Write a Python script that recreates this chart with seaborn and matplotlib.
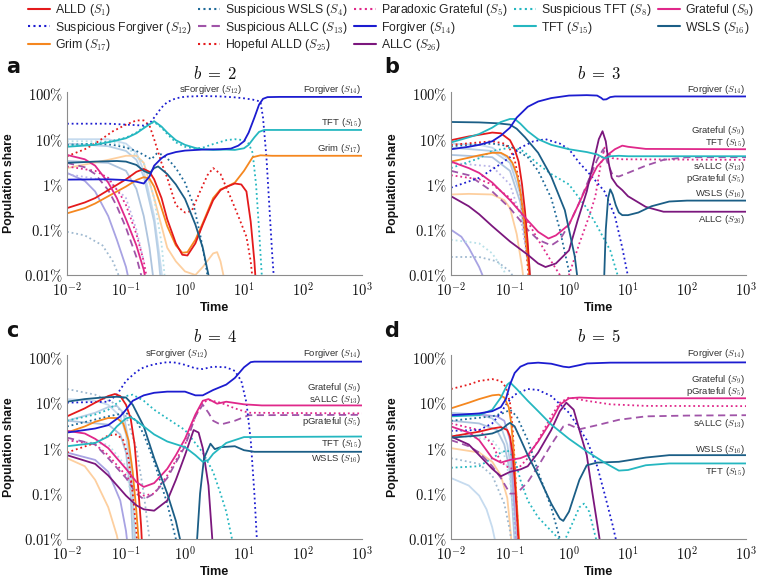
import matplotlib
matplotlib.use("Agg")
import matplotlib.pyplot as plt
import seaborn as sns
from matplotlib.ticker import LogLocator, NullFormatter, FixedLocator, FixedFormatter
from matplotlib.lines import Line2D
import matplotlib.transforms as mtrans

# ------------------------------------------------------------------
# Data: (time, population share in %)
# ------------------------------------------------------------------
# ---- panel a (b = 2) ----
A_S1 = [(0.01,0.3),(0.02,0.4),(0.03,0.5),(0.05,0.75),(0.1,1.3),(0.15,1.9),(0.2,2.2),(0.25,1.9),(0.3,1.3),(0.4,0.5),(0.5,0.17),(0.7,0.05),(0.9,0.028),(1.1,0.027),(1.5,0.05),(2,0.13),(3,0.45),(4,0.75),(5,0.88),(7,1.05),(9,1.0),(11,0.7),(13,0.15),(15,0.02),(16.5,0.003)]
A_S4 = [(0.01,7.5),(0.03,8),(0.06,7.5),(0.1,6.5),(0.15,5.5),(0.2,4.5),(0.27,3.6),(0.33,4.8),(0.4,4.6),(0.5,3.8),(0.7,2.3),(1,1.1),(1.4,0.35),(1.8,0.08),(2.2,0.02),(2.6,0.005)]
A_S5 = [(0.01,2.5),(0.03,2.0),(0.05,1.4),(0.08,0.6),(0.1,0.35),(0.15,0.08),(0.2,0.02),(0.25,0.004)]
A_S8 = [(0.01,7.2),(0.03,8),(0.05,8.8),(0.1,10.8),(0.15,14),(0.2,18.5),(0.25,22),(0.3,24),(0.4,18),(0.5,13),(0.7,8.5),(1,6.8),(1.5,6.2),(2,6.5),(3,7.8),(5,9.5),(7,10),(10,9.5),(12,8),(14,5),(16,1),(18,0.1),(20,0.01),(21,0.003)]
A_S9 = [(0.01,4.5),(0.02,3.6),(0.03,2.6),(0.05,1.1),(0.07,0.5),(0.1,0.17),(0.15,0.045),(0.2,0.013),(0.23,0.005)]
A_S12 = [(0.01,22),(0.05,22),(0.1,21),(0.2,20),(0.25,22),(0.3,30),(0.4,50),(0.5,66),(0.7,80),(1,87),(2,90),(4,88),(7,84),(10,80),(14,75),(19,68),(21,30),(24,4),(27,0.3),(30,0.03),(33,0.005)]
A_S13 = [(0.01,3.0),(0.02,2.4),(0.03,1.7),(0.05,0.75),(0.07,0.33),(0.1,0.11),(0.15,0.025),(0.2,0.006)]
A_S14 = [(0.01,1.28),(0.05,1.3),(0.1,1.25),(0.15,1.15),(0.2,1.05),(0.25,1.5),(0.3,2.6),(0.4,3.8),(0.5,4.6),(0.7,5.2),(1,5.6),(2,5.9),(4,6.0),(6,6.2),(8,7.2),(10,9),(12,14),(15,30),(18,58),(21,78),(25,85),(40,86),(1000,86)]
A_S15 = [(0.01,6.8),(0.03,7.5),(0.06,9),(0.1,10.5),(0.15,13.5),(0.2,17.5),(0.3,25),(0.4,19),(0.5,14),(0.7,9.5),(1,7.5),(1.5,6.4),(2,6.0),(3,5.8),(5,5.9),(7,5.8),(10,6.3),(12,7.5),(15,11),(18,14.5),(22,16),(40,16),(1000,16)]
A_S16 = [(0.01,3.0),(0.03,3.2),(0.07,3.3),(0.1,3.2),(0.15,2.7),(0.2,2.0),(0.25,1.75),(0.3,2.3),(0.35,2.5),(0.5,1.7),(0.7,1.0),(1,0.48),(1.5,0.13),(2,0.04),(2.5,0.01),(2.8,0.004)]
A_S17 = [(0.01,0.23),(0.02,0.3),(0.03,0.38),(0.05,0.55),(0.1,0.9),(0.15,1.25),(0.2,1.45),(0.25,1.35),(0.3,0.9),(0.4,0.3),(0.5,0.12),(0.7,0.045),(0.9,0.031),(1.1,0.032),(1.5,0.06),(2,0.14),(3,0.5),(4,0.78),(5,0.88),(7,1.1),(10,2),(14,4.0),(19,4.4),(30,4.3),(1000,4.3)]
A_S25 = [(0.01,4.2),(0.02,6),(0.03,8),(0.06,15),(0.1,21),(0.15,26),(0.2,26),(0.25,20),(0.3,10),(0.4,3),(0.5,1.4),(0.7,0.35),(1,0.24),(1.3,0.26),(1.8,0.7),(2.4,1.6),(3,2.3),(4,1.7),(6,0.5),(8,0.2),(11,0.07),(13,0.02),(14.5,0.005)]
A_BG = [
    [(0.01,10),(0.05,10),(0.1,8),(0.15,5),(0.2,2),(0.3,0.2),(0.4,0.012),(0.45,0.003)],
    [(0.01,8),(0.05,7),(0.1,5.5),(0.15,3.5),(0.2,1.5),(0.3,0.15),(0.35,0.03),(0.4,0.005)],
    [(0.01,3.3),(0.05,3.0),(0.1,2.0),(0.15,0.8),(0.2,0.2),(0.25,0.04),(0.3,0.006)],
    [(0.01,2.3),(0.05,3.5),(0.1,4.3),(0.15,4.3),(0.2,3),(0.3,0.5),(0.5,0.04),(0.7,0.02),(1,0.012),(1.5,0.01),(2,0.015),(3,0.03),(3.5,0.032),(4,0.02),(5,0.005)],
    [(0.01,1.8),(0.02,1.2),(0.03,0.7),(0.05,0.2),(0.07,0.06),(0.1,0.015),(0.12,0.005)],
    [(0.01,0.09),(0.02,0.075),(0.04,0.045),(0.06,0.02),(0.08,0.008)],
    [(0.01,9),(0.05,9),(0.1,7),(0.2,3),(0.3,0.5),(0.4,0.05),(0.45,0.01)],
    [(0.01,1.7),(0.05,1.2),(0.1,0.5),(0.15,0.1),(0.2,0.02)],
]

# ---- panel b (b = 3) ----
B_S1 = [(0.01,9.5),(0.02,11.5),(0.03,12.5),(0.05,14),(0.07,13.5),(0.1,9.5),(0.12,6),(0.14,3.2),(0.16,1.0),(0.18,0.25),(0.2,0.05),(0.22,0.008)]
B_S4 = [(0.01,7),(0.05,8),(0.1,7),(0.2,4),(0.3,2),(0.5,0.5),(0.7,0.1),(1,0.012),(1.1,0.005)]
B_S5 = [(0.01,1.6),(0.03,1.3),(0.05,1.0),(0.1,0.5),(0.2,0.15),(0.3,0.06),(0.5,0.02),(0.7,0.01),(0.85,0.006),(1.0,0.01),(1.5,0.05),(2.2,0.2),(2.8,0.55),(3.4,2.5),(4.0,6.5),(4.6,5),(5.5,3.8),(8,3.6),(1000,3.5)]
B_S8 = [(0.01,2.3),(0.03,3.8),(0.05,5.5),(0.1,6.5),(0.15,6),(0.2,4.5),(0.3,2.8),(0.5,1.7),(1,1.0),(2,0.3),(3,0.12),(5,0.035),(7,0.008)]
B_S9 = [(0.01,3.2),(0.02,2.3),(0.03,1.8),(0.05,1.1),(0.1,0.45),(0.2,0.16),(0.3,0.09),(0.45,0.064),(0.6,0.075),(1,0.13),(1.5,0.4),(2,0.9),(3,2.5),(4.5,4.5),(6,6),(8,7.2),(10,6.8),(20,6.1),(1000,6.0)]
B_S12 = [(0.01,0.85),(0.03,1.4),(0.06,2.5),(0.1,4),(0.15,6.5),(0.25,9),(0.4,10),(0.7,8),(1,6),(1.5,3),(2,2),(3,1.1),(4,0.7),(6,0.2),(8,0.04),(11,0.005)]
B_S13 = [(0.01,2.0),(0.02,1.6),(0.05,0.7),(0.1,0.3),(0.2,0.1),(0.3,0.06),(0.5,0.045),(0.7,0.06),(1,0.13),(1.5,0.4),(2,1.0),(3,3.5),(3.8,6),(4.5,3),(5.5,1.6),(7,1.5),(10,1.8),(20,2.6),(40,3.5),(100,4.0),(1000,4.0)]
B_S14 = [(0.01,6),(0.02,6.8),(0.03,7.5),(0.05,9),(0.07,12),(0.1,18),(0.13,30),(0.2,52),(0.3,68),(0.5,81),(1,92),(2,94),(3,92),(3.5,82),(3.8,75),(4.3,76),(5,85),(6,88),(1000,88)]
B_S15 = [(0.01,8.5),(0.02,11),(0.03,13),(0.05,18),(0.07,24),(0.1,28),(0.12,28),(0.15,22),(0.2,15),(0.3,10),(0.5,7.5),(1,6),(2,5.2),(3,4.6),(4,3.8),(5,4.2),(7,4.3),(10,4.2),(1000,4.2)]
B_S16 = [(0.01,24),(0.03,23.5),(0.06,22.5),(0.1,21),(0.13,17),(0.18,11),(0.3,5),(0.5,1.5),(0.85,0.27),(1.25,0.026),(1.4,0.008),(1.6,0.001),(3.5,0.0001),(3.8,0.002),(4.2,0.1),(4.6,0.5),(5.0,0.78),(5.5,0.6),(6.2,0.35),(7,0.24),(8,0.21),(10,0.21),(15,0.24),(25,0.33),(50,0.42),(100,0.44),(1000,0.44)]
B_S17 = [(0.01,3.2),(0.02,3.9),(0.03,4.4),(0.05,5.0),(0.07,5.0),(0.09,4.2),(0.11,3.0),(0.13,1.7),(0.15,0.7),(0.17,0.2),(0.19,0.05),(0.21,0.012),(0.23,0.003)]
B_S25 = [(0.01,7.5),(0.03,8.5),(0.05,9),(0.08,8),(0.1,6),(0.12,3.5),(0.14,1.3),(0.16,0.35),(0.18,0.08),(0.2,0.015),(0.22,0.003)]
B_S26 = [(0.01,0.55),(0.02,0.33),(0.03,0.22),(0.05,0.12),(0.1,0.055),(0.2,0.028),(0.3,0.018),(0.4,0.015),(0.6,0.018),(1,0.035),(1.4,0.16),(2,0.7),(2.5,2.5),(3.2,10),(3.7,15),(4.2,9),(4.7,3),(5.3,1.4),(6.5,0.95),(8,0.75),(10,0.55),(20,0.32),(40,0.25),(100,0.25),(1000,0.25)]
B_BG = [
    [(0.01,8),(0.03,7.5),(0.05,6.5),(0.1,3.5),(0.15,1),(0.18,0.2),(0.2,0.03),(0.22,0.005)],
    [(0.01,6.5),(0.05,5.5),(0.1,3),(0.15,0.6),(0.2,0.04),(0.22,0.01)],
    [(0.01,4.5),(0.05,4),(0.1,2),(0.15,0.4),(0.2,0.02)],
    [(0.01,0.6),(0.02,0.62),(0.05,0.6),(0.08,0.45),(0.1,0.3),(0.13,0.08),(0.16,0.015),(0.18,0.004)],
    [(0.01,0.1),(0.015,0.07),(0.02,0.04),(0.03,0.015),(0.04,0.006)],
    [(0.01,0.025),(0.03,0.025),(0.06,0.02),(0.1,0.012),(0.12,0.008)],
    [(0.01,0.06),(0.03,0.05),(0.05,0.03),(0.08,0.012),(0.1,0.005)],
    [(0.01,3),(0.05,2.5),(0.1,1),(0.15,0.2),(0.2,0.02)],
]

# ---- panel c (b = 4) ----
C_S1 = [(0.01,5),(0.02,7.5),(0.03,10),(0.05,14),(0.065,15.5),(0.08,14),(0.1,9),(0.12,4.5),(0.14,1.2),(0.16,0.15),(0.18,0.02),(0.19,0.005)]
C_S4 = [(0.01,3),(0.05,5),(0.1,6),(0.15,4),(0.2,2),(0.3,0.5),(0.5,0.06),(0.7,0.01),(0.75,0.005)]
C_S5 = [(0.01,1.5),(0.03,1.2),(0.05,0.7),(0.1,0.25),(0.15,0.12),(0.2,0.09),(0.3,0.1),(0.5,0.25),(1,1.2),(1.5,5),(2,10),(2.5,11.5),(4,10),(7,7.5),(12,6),(1000,5.8)]
C_S8 = [(0.01,4),(0.03,5.5),(0.05,7),(0.08,11),(0.1,14),(0.13,15),(0.2,11),(0.3,7),(0.5,4.5),(1,2.5),(2,0.8),(3,0.3),(4,0.1),(5,0.04),(6.5,0.008)]
C_S9 = [(0.01,2.4),(0.02,2.1),(0.03,1.6),(0.05,1.0),(0.07,0.6),(0.1,0.35),(0.15,0.18),(0.2,0.14),(0.3,0.17),(0.5,0.35),(0.7,0.7),(1,1.6),(1.5,5.5),(2,11),(2.5,12),(3.5,9.5),(5,10.5),(10,9.2),(20,8.7),(1000,8.7)]
C_S12 = [(0.01,10),(0.05,10.5),(0.07,15),(0.1,30),(0.15,48),(0.2,60),(0.3,70),(0.5,78),(0.7,76),(1,68),(1.5,57),(2,55),(3,62),(5,60),(7,50),(9,30),(11,10),(13,1.5),(15,0.1),(17,0.005)]
C_S13 = [(0.01,1.7),(0.03,1.2),(0.05,0.6),(0.1,0.22),(0.15,0.1),(0.2,0.075),(0.3,0.1),(0.5,0.22),(1,1.1),(1.5,5),(2,9),(2.5,6),(3,4),(4,3.3),(7,4.0),(12,5.3),(1000,5.4)]
C_S14 = [(0.01,2.2),(0.03,2.7),(0.05,3.2),(0.08,5),(0.1,7),(0.13,11),(0.2,14.5),(0.3,16.5),(0.5,17.5),(1,17.5),(1.5,14.5),(2,14.5),(3,19),(5,25),(7,35),(10,60),(13,78),(15,80),(1000,80)]
C_S15 = [(0.01,1.1),(0.03,1.3),(0.05,1.8),(0.07,3),(0.1,4.5),(0.12,4.8),(0.15,4),(0.2,3.0),(0.3,2.0),(0.5,1.4),(1,1.05),(1.5,0.7),(2,0.5),(2.5,0.55),(3,0.75),(5,1.3),(10,1.75),(1000,1.8)]
C_S16 = [(0.01,10.5),(0.02,12),(0.04,13),(0.07,13.5),(0.1,13),(0.13,9),(0.2,3),(0.3,0.6),(0.5,0.1),(0.7,0.025),(0.9,0.006),(1.2,0.0001),(1.55,0.005),(1.8,0.1),(2.1,0.6),(2.7,1.25),(3.2,0.95),(4,1.05),(7,1.1),(10,0.9),(15,0.83),(1000,0.83)]
C_S17 = [(0.01,2.2),(0.02,3.0),(0.03,3.8),(0.05,4.6),(0.07,4.6),(0.09,3.5),(0.11,1.5),(0.13,0.3),(0.15,0.04),(0.17,0.005)]
C_S25 = [(0.01,0.8),(0.03,1.3),(0.05,1.9),(0.07,2.0),(0.09,1.5),(0.11,0.6),(0.13,0.1),(0.15,0.015),(0.16,0.004)]
C_S26 = [(0.01,0.7),(0.03,0.45),(0.05,0.25),(0.1,0.09),(0.15,0.055),(0.2,0.045),(0.3,0.042),(0.5,0.07),(0.7,0.2),(1,0.7),(1.4,2.5),(1.7,2.2),(2,1.0),(2.5,0.15),(2.9,0.01),(3.2,0.001)]
C_BG = [
    [(0.01,12),(0.03,11),(0.05,9),(0.08,5),(0.1,2),(0.12,0.3),(0.14,0.02),(0.15,0.005)],
    [(0.01,4),(0.03,6),(0.05,8),(0.07,8.5),(0.09,6),(0.11,1.5),(0.13,0.1),(0.14,0.01)],
    [(0.01,4),(0.05,3.3),(0.08,2),(0.1,0.8),(0.12,0.1),(0.13,0.01)],
    [(0.01,0.6),(0.02,0.4),(0.03,0.2),(0.05,0.05),(0.07,0.012),(0.08,0.005)],
    [(0.01,0.8),(0.03,0.55),(0.05,0.3),(0.08,0.07),(0.1,0.015),(0.11,0.005)],
    [(0.01,20),(0.03,15),(0.06,10),(0.1,5),(0.15,1),(0.2,0.1),(0.25,0.01)],
    [(0.01,1.5),(0.05,1.2),(0.1,0.4),(0.13,0.05),(0.15,0.008)],
]

# ---- panel d (b = 5) ----
D_S1 = [(0.01,1.8),(0.03,2.3),(0.05,2.7),(0.07,2.9),(0.09,2.5),(0.1,1.8),(0.11,0.8),(0.12,0.2),(0.13,0.04),(0.14,0.008)]
D_S4 = [(0.01,4),(0.05,5),(0.08,6),(0.1,7),(0.13,5),(0.2,1.5),(0.3,0.3),(0.5,0.05),(0.7,0.01),(0.8,0.004)]
D_S5 = [(0.01,3.5),(0.03,2.5),(0.05,1.2),(0.07,0.5),(0.1,0.35),(0.15,0.4),(0.2,0.6),(0.3,1.5),(0.5,5),(0.7,10),(1,13),(2,11),(5,9.2),(20,8.5),(1000,8.4)]
D_S8 = [(0.01,0.37),(0.03,0.4),(0.05,0.6),(0.07,0.8),(0.09,0.9),(0.12,0.6),(0.15,0.2),(0.2,0.07),(0.3,0.03),(0.5,0.015),(0.8,0.008),(1,0.015),(1.5,0.05),(1.8,0.06),(2.2,0.04),(3,0.008),(3.5,0.002)]
D_S9 = [(0.01,3.0),(0.02,2.2),(0.03,1.5),(0.05,0.6),(0.07,0.48),(0.1,0.55),(0.15,0.6),(0.2,0.7),(0.3,1.4),(0.5,4),(0.7,9),(1,12.5),(1.5,13),(3,12.5),(1000,12.5)]
D_S12 = [(0.01,2.4),(0.03,2.5),(0.05,3.5),(0.07,6),(0.09,10),(0.12,15),(0.2,20),(0.3,19),(0.5,14),(1,6),(2,1.5),(3,0.4),(4,0.1),(5.5,0.02),(7,0.005)]
D_S13 = [(0.01,1.5),(0.02,1.1),(0.03,0.8),(0.05,0.4),(0.07,0.22),(0.1,0.1),(0.13,0.1),(0.2,0.18),(0.3,0.4),(0.5,1.2),(0.8,3),(1,3.3),(1.5,2.6),(3,3.2),(7,4.2),(20,5),(100,5.2),(1000,5.3)]
D_S14 = [(0.01,5.3),(0.03,5.8),(0.05,6.5),(0.07,8),(0.085,12),(0.1,25),(0.12,45),(0.15,62),(0.2,73),(0.3,76),(0.5,72),(0.8,62),(1,60),(1.5,67),(2,73),(5,76),(1000,77)]
D_S15 = [(0.01,5),(0.03,5.3),(0.05,7),(0.07,13),(0.09,25),(0.1,28),(0.13,20),(0.2,11),(0.3,6.5),(0.5,3.3),(1,1.6),(2,0.85),(4,0.48),(7,0.32),(10,0.33),(20,0.42),(50,0.46),(1000,0.46)]
D_S16 = [(0.01,1.7),(0.03,1.9),(0.05,2.1),(0.07,2.5),(0.09,3.3),(0.1,3.6),(0.12,3),(0.15,1.6),(0.2,0.7),(0.3,0.25),(0.5,0.06),(0.7,0.028),(0.8,0.025),(1,0.04),(1.5,0.2),(2,0.42),(3,0.48),(7,0.5),(20,0.62),(50,0.7),(1000,0.7)]
D_S17 = [(0.01,7.5),(0.02,10),(0.03,12),(0.05,14.5),(0.065,15),(0.08,13),(0.095,8),(0.105,3.5),(0.115,0.9),(0.125,0.15),(0.135,0.03),(0.145,0.007)]
D_S25 = [(0.01,20),(0.02,25),(0.03,30),(0.05,33),(0.07,30),(0.085,22),(0.1,10),(0.11,3),(0.12,0.5),(0.13,0.06),(0.14,0.007)]
D_S26 = [(0.01,1.8),(0.02,1.2),(0.03,0.7),(0.05,0.35),(0.07,0.24),(0.1,0.3),(0.15,0.34),(0.2,0.4),(0.3,0.8),(0.5,2.5),(0.7,6.5),(0.9,10),(1.2,7),(1.5,2.5),(2,0.7),(2.5,0.1),(3.3,0.01),(3.6,0.003)]
D_BG = [
    [(0.01,0.22),(0.02,0.15),(0.03,0.09),(0.04,0.045),(0.05,0.018),(0.06,0.006)],
    [(0.01,6),(0.03,5.5),(0.05,4.5),(0.07,3),(0.09,1.2),(0.1,0.5),(0.12,0.05),(0.13,0.008)],
    [(0.01,4),(0.03,3.5),(0.06,2.5),(0.08,1.2),(0.1,0.3),(0.11,0.05),(0.12,0.008)],
    [(0.01,1),(0.03,0.8),(0.05,0.5),(0.07,0.25),(0.09,0.08),(0.1,0.02),(0.11,0.005)],
    [(0.01,5.5),(0.03,5.5),(0.06,5),(0.08,4),(0.1,1.5),(0.11,0.3),(0.12,0.03),(0.13,0.005)],
    [(0.01,0.6),(0.03,0.45),(0.05,0.25),(0.08,0.06),(0.1,0.015),(0.11,0.005)],
    [(0.01,2),(0.05,1.5),(0.08,0.7),(0.1,0.2),(0.12,0.02),(0.13,0.004)],
]

# panel titles, and right-hand annotations (text, time or None = right edge, share %)
TITLES = [r"$b\;=\;2$", r"$b\;=\;3$", r"$b\;=\;4$", r"$b\;=\;5$"]
LETTERS = ["a", "b", "c", "d"]
A_LABELS = [("Forgiver ($S_{14}$)", None, 125), ("TFT ($S_{15}$)", None, 23), ("Grim ($S_{17}$)", None, 6.2), ("sForgiver ($S_{12}$)", 2.7, 125)]
B_LABELS = [("Forgiver ($S_{14}$)", None, 125), ("Grateful ($S_{9}$)", None, 15.7), ("TFT ($S_{15}$)", None, 8.5), ("sALLC ($S_{13}$)", None, 2.45), ("pGrateful ($S_{5}$)", None, 1.35), ("WSLS ($S_{16}$)", None, 0.62), ("ALLC ($S_{26}$)", None, 0.17)]
C_LABELS = [("Forgiver ($S_{14}$)", None, 120), ("sForgiver ($S_{12}$)", 0.72, 120), ("Grateful ($S_{9}$)", None, 22), ("sALLC ($S_{13}$)", None, 11.5), ("pGrateful ($S_{5}$)", None, 3.9), ("TFT ($S_{15}$)", None, 1.29), ("WSLS ($S_{16}$)", None, 0.6)]
D_LABELS = [("Forgiver ($S_{14}$)", None, 120), ("Grateful ($S_{9}$)", None, 33), ("pGrateful ($S_{5}$)", None, 17.5), ("sALLC ($S_{13}$)", None, 3.5), ("WSLS ($S_{16}$)", None, 0.93), ("TFT ($S_{15}$)", None, 0.31)]

# ------------------------------------------------------------------
# Styles
# ------------------------------------------------------------------
DOT = (0, (1, 1.6))
DASH = (0, (4, 2.5))
STYLE = {
    "S1":  ("ALLD", "$S_{1}$", "#e41a1c", "-"),
    "S4":  ("Suspicious WSLS", "$S_{4}$", "#1f6a99", DOT),
    "S5":  ("Paradoxic Grateful", "$S_{5}$", "#e0288a", DOT),
    "S8":  ("Suspicious TFT", "$S_{8}$", "#25b7c0", DOT),
    "S9":  ("Grateful", "$S_{9}$", "#e0288a", "-"),
    "S12": ("Suspicious Forgiver", "$S_{12}$", "#1c1cd0", DOT),
    "S13": ("Suspicious ALLC", "$S_{13}$", "#a054a8", DASH),
    "S14": ("Forgiver", "$S_{14}$", "#1c1cd0", "-"),
    "S15": ("TFT", "$S_{15}$", "#25b7c0", "-"),
    "S16": ("WSLS", "$S_{16}$", "#1b5e86", "-"),
    "S17": ("Grim", "$S_{17}$", "#f5871f", "-"),
    "S25": ("Hopeful ALLD", "$S_{25}$", "#e41a1c", DOT),
    "S26": ("ALLC", "$S_{26}$", "#7b177d", "-"),
}
BG_STYLE = [("#c6dbef", "-"), ("#b7cfe6", "-"), ("#aec4de", "-"), ("#fdcf9f", "-"),
            ("#a8a3e3", "-"), ("#9fb9d0", DOT), ("#b8e0e8", DOT), ("#b9b4e8", DOT)]
LEGEND_ORDER = ["S1", "S12", "S17", "S4", "S13", "S25", "S5", "S14", "S26", "S8", "S15", "S9", "S16"]
DRAW_ORDER = ["S5", "S4", "S8", "S13", "S25", "S12", "S17", "S1", "S9", "S26", "S16", "S15", "S14"]

PANELS = [
    ({"S1": A_S1, "S4": A_S4, "S5": A_S5, "S8": A_S8, "S9": A_S9, "S12": A_S12, "S13": A_S13,
      "S14": A_S14, "S15": A_S15, "S16": A_S16, "S17": A_S17, "S25": A_S25}, A_BG, A_LABELS),
    ({"S1": B_S1, "S4": B_S4, "S5": B_S5, "S8": B_S8, "S9": B_S9, "S12": B_S12, "S13": B_S13,
      "S14": B_S14, "S15": B_S15, "S16": B_S16, "S17": B_S17, "S25": B_S25, "S26": B_S26}, B_BG, B_LABELS),
    ({"S1": C_S1, "S4": C_S4, "S5": C_S5, "S8": C_S8, "S9": C_S9, "S12": C_S12, "S13": C_S13,
      "S14": C_S14, "S15": C_S15, "S16": C_S16, "S17": C_S17, "S25": C_S25, "S26": C_S26}, C_BG, C_LABELS),
    ({"S1": D_S1, "S4": D_S4, "S5": D_S5, "S8": D_S8, "S9": D_S9, "S12": D_S12, "S13": D_S13,
      "S14": D_S14, "S15": D_S15, "S16": D_S16, "S17": D_S17, "S25": D_S25, "S26": D_S26}, D_BG, D_LABELS),
]

# ------------------------------------------------------------------
sns.set_theme(style="white")
plt.rcParams["font.family"] = ["Liberation Sans", "DejaVu Sans"]
plt.rcParams["mathtext.fontset"] = "cm"

fig = plt.figure(figsize=(7.58, 5.81), dpi=100)
W, H = 758.0, 581.0
# axes rectangles in pixels: left, top, right, bottom
RECTS = [(67, 91.7, 362, 275), (451, 91.7, 746, 275), (67, 355, 362, 539), (451, 355, 746, 539)]
LETTER_POS = [(6, 67), (384, 67), (6, 331), (384, 331)]

YT = [0.01, 0.1, 1, 10, 100]
YTL = [r"$0.01\%$", r"$0.1\%$", r"$1\%$", r"$10\%$", r"$100\%$"]
XT = [0.01, 0.1, 1, 10, 100, 1000]
XTL = [r"$10^{-2}$", r"$10^{-1}$", r"$10^{0}$", r"$10^{1}$", r"$10^{2}$", r"$10^{3}$"]

for i, (series, bg, labels) in enumerate(PANELS):
    l, t, r, b = RECTS[i]
    ax = fig.add_axes([l / W, 1 - b / H, (r - l) / W, (b - t) / H])
    ax.set_xscale("log")
    ax.set_yscale("log")
    for pts, (col, ls) in zip(bg, BG_STYLE):
        sns.lineplot(x=[p[0] for p in pts], y=[p[1] for p in pts], ax=ax, color=col,
                     linestyle=ls, lw=1.3, estimator=None, sort=False, legend=False)
    for key in DRAW_ORDER:
        if key not in series:
            continue
        pts = series[key]
        name, sub, col, ls = STYLE[key]
        sns.lineplot(x=[p[0] for p in pts], y=[p[1] for p in pts], ax=ax, color=col,
                     linestyle=ls, lw=1.3, estimator=None, sort=False, legend=False)
    ax.set_xlim(0.01, 1000)
    ax.set_ylim(0.01, 112)
    ax.xaxis.set_major_locator(FixedLocator(XT))
    ax.xaxis.set_major_formatter(FixedFormatter(XTL))
    ax.yaxis.set_major_locator(FixedLocator(YT))
    ax.yaxis.set_major_formatter(FixedFormatter(YTL))
    ax.xaxis.set_minor_locator(LogLocator(base=10, subs=range(2, 10), numticks=50))
    ax.yaxis.set_minor_locator(LogLocator(base=10, subs=range(2, 10), numticks=50))
    ax.xaxis.set_minor_formatter(NullFormatter())
    ax.yaxis.set_minor_formatter(NullFormatter())
    ax.tick_params(which="both", direction="in", color="#9a9a9a", labelsize=10.5,
                   labelcolor="#111111", pad=3)
    ax.tick_params(which="major", length=4, width=0.8)
    ax.tick_params(which="minor", length=2.5, width=0.6)
    ax.tick_params(axis="x", pad=4)
    for s in ["top", "right"]:
        ax.spines[s].set_visible(False)
    for s in ["left", "bottom"]:
        ax.spines[s].set_color("#8c8c8c")
        ax.spines[s].set_linewidth(0.8)
    ax.set_xlabel("")
    ax.set_ylabel("")
    ax.text(0.5, -0.182, "Time", transform=ax.transAxes, ha="center", va="center",
            fontsize=9.2, fontweight="bold", color="#111111")
    ax.text(-0.195, 0.5, "Population share", transform=ax.transAxes, ha="center",
            va="center", rotation=90, fontsize=8.8, fontweight="bold", color="#111111")
    ax.text(0.5, 1.10, TITLES[i], transform=ax.transAxes, ha="center", va="center",
            fontsize=12, color="#111111")
    lx, ly = LETTER_POS[i]
    fig.text(lx / W, 1 - ly / H, LETTERS[i], ha="left", va="center", fontsize=15,
             fontweight="bold", color="#111111", family="DejaVu Sans")
    trans = mtrans.blended_transform_factory(ax.transAxes, ax.transData)
    for txt, xt, yv in labels:
        if xt is None:
            ax.text(0.998, yv, txt, transform=trans, ha="right", va="center",
                    fontsize=6.8, color="#333333", clip_on=False)
        else:
            ax.text(xt, yv, txt, ha="center", va="center", fontsize=6.8,
                    color="#333333", clip_on=False)

handles, labs = [], []
for key in LEGEND_ORDER:
    name, sub, col, ls = STYLE[key]
    handles.append(Line2D([0], [0], color=col, linestyle=ls, lw=1.5))
    labs.append(f"{name} ({sub})")
fig.legend(handles, labs, loc="upper left", bbox_to_anchor=(27 / W, 0.999), ncol=5,
           frameon=False, fontsize=8.8, handlelength=1.8, handletextpad=0.4,
           columnspacing=0.5, borderaxespad=0.1, borderpad=0.0, labelspacing=0.14)

fig.savefig("out.png", dpi=100, facecolor="white")
